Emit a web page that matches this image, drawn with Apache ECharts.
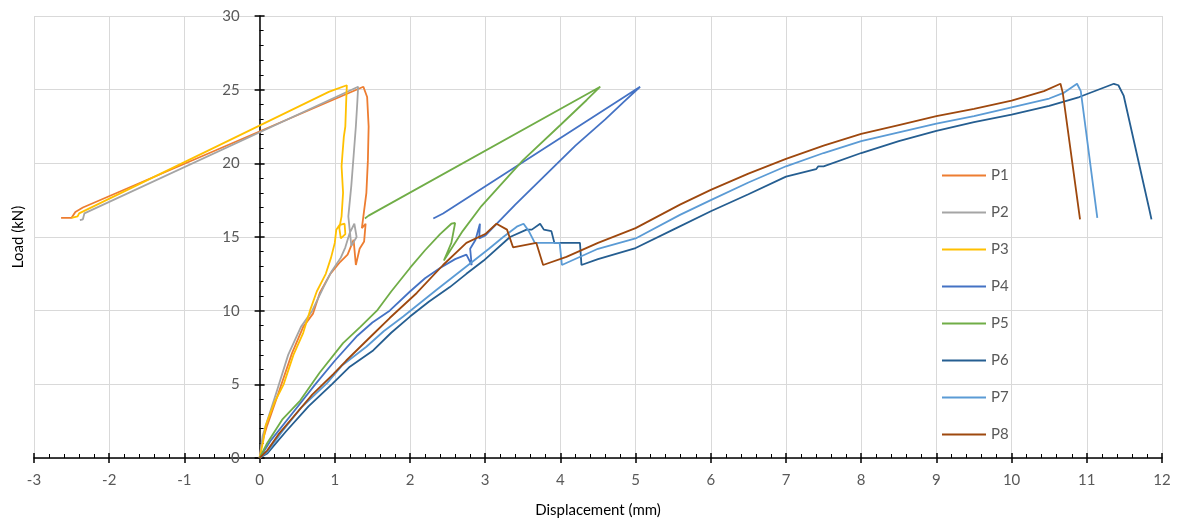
<!DOCTYPE html>
<html>
<head>
<meta charset="utf-8">
<script src="https://cdn.jsdelivr.net/npm/echarts@6/dist/echarts.min.js"></script>
<style>html,body{margin:0;padding:0;background:#fff}#c{width:1180px;height:526px}</style>
</head>
<body>
<div id="c"></div>
<script>
const seriesNames = ['P1','P2','P3','P4','P5','P6','P7','P8'];
const xTickLabels = ['-3','-2','-1','0','1','2','3','4','5','6','7','8','9','10','11','12'];
const yTickLabels = ['0','5','10','15','20','25','30'];

const P1 = [[0,0],[0.03,1.0],[0.1,2.2],[0.25,4.4],[0.43,7.1],[0.58,8.9],[0.71,9.8],[0.8,11.2],[0.94,12.5],[1.07,13.3],[1.17,13.8],[1.25,14.8],[1.28,13.1],[1.33,14.2],[1.39,14.7],[1.41,15.9],[1.36,15.6],[1.38,16.4],[1.42,18.0],[1.44,20.2],[1.45,22.5],[1.43,24.5],[1.38,25.2],[-2.35,17.0],[-2.45,16.7],[-2.5,16.3],[-2.64,16.3]];
const P2 = [[0,0],[0.04,1.5],[0.1,2.5],[0.22,4.4],[0.38,7.0],[0.55,8.9],[0.7,10.0],[0.85,11.6],[0.95,12.6],[1.08,13.6],[1.14,14.3],[1.2,15.3],[1.26,15.9],[1.29,15.0],[1.22,14.4],[1.18,16.4],[1.22,18.5],[1.25,20.5],[1.28,22.5],[1.30,24.2],[1.31,25.2],[-2.33,16.6],[-2.35,16.2],[-2.39,16.15]];
const P3 = [[0,0],[0.05,1.2],[0.08,2.2],[0.2,3.8],[0.32,5.0],[0.45,7.0],[0.58,8.5],[0.67,10.0],[0.76,11.3],[0.88,12.5],[0.95,13.6],[1.0,14.6],[1.02,15.5],[1.06,15.8],[1.13,15.9],[1.14,15.2],[1.08,14.9],[1.06,15.6],[1.09,16.4],[1.11,18.0],[1.09,19.8],[1.10,20.5],[1.12,21.8],[1.14,22.5],[1.15,24.0],[1.16,25.3],[1.0,25.0],[0.92,24.85],[-2.4,16.6],[-2.42,16.4],[-2.5,16.3]];
const P4 = [[0,0],[0.15,1.2],[0.4,2.8],[0.74,5.0],[1.0,6.6],[1.3,8.3],[1.5,9.2],[1.73,10.0],[2.0,11.3],[2.2,12.2],[2.4,12.9],[2.6,13.5],[2.75,13.8],[2.82,13.1],[2.8,14.2],[2.87,14.8],[2.93,15.9],[2.92,14.9],[3.0,15.1],[3.4,17.2],[3.8,19.2],[4.2,21.2],[4.6,23.0],[4.85,24.2],[5.06,25.2],[2.44,16.6],[2.31,16.26]];
const P5 = [[0,0],[0.1,1.0],[0.3,2.6],[0.54,3.9],[0.8,5.8],[1.11,7.8],[1.34,8.9],[1.56,10.0],[1.75,11.3],[2.0,12.9],[2.2,14.1],[2.4,15.2],[2.55,15.9],[2.6,15.95],[2.55,14.6],[2.5,14.0],[2.45,13.4],[2.7,15.4],[2.95,17.1],[3.5,20.2],[4.0,22.6],[4.35,24.3],[4.53,25.2],[1.45,16.45],[1.40,16.26]];
const P6 = [[0,0],[0.1,0.3],[0.35,1.8],[0.65,3.5],[0.96,5.0],[1.2,6.2],[1.51,7.3],[1.75,8.5],[2.0,9.6],[2.25,10.6],[2.53,11.6],[2.75,12.5],[2.98,13.4],[3.33,15.0],[3.55,15.5],[3.62,15.5],[3.73,15.9],[3.78,15.5],[3.88,15.4],[3.92,14.6],[4.26,14.6],[4.28,13.1],[4.5,13.5],[5.0,14.25],[5.5,15.5],[6,16.75],[6.5,17.9],[7,19.1],[7.4,19.6],[7.43,19.8],[7.5,19.8],[8,20.7],[8.5,21.5],[9,22.2],[9.5,22.8],[10,23.3],[10.5,23.9],[10.9,24.5],[11.36,25.4],[11.42,25.3],[11.49,24.6],[11.83,16.9],[11.86,16.2]];
const P7 = [[0,0],[0.1,0.4],[0.3,1.8],[0.55,3.4],[0.9,5.1],[1.1,6.3],[1.42,7.55],[1.65,8.6],[1.91,9.6],[2.35,11.4],[2.8,13.2],[3.05,14.2],[3.24,15.0],[3.42,15.7],[3.51,15.9],[3.58,15.4],[3.66,14.6],[3.99,14.6],[4.02,13.1],[4.5,14.2],[5.0,14.9],[5.59,16.5],[6,17.5],[6.5,18.7],[7,19.8],[7.5,20.7],[8,21.5],[8.5,22.1],[9,22.7],[9.5,23.2],[10,23.8],[10.5,24.4],[10.7,24.8],[10.87,25.4],[10.92,24.9],[11.14,16.3]];
const P8 = [[0,0],[0.1,0.5],[0.25,1.6],[0.45,2.8],[0.7,4.3],[0.98,5.7],[1.15,6.6],[1.34,7.55],[1.53,8.5],[1.73,9.5],[2.09,11.2],[2.44,13.1],[2.75,14.6],[3.0,15.2],[3.15,15.9],[3.29,15.5],[3.37,14.3],[3.68,14.6],[3.77,13.1],[4.08,13.65],[4.5,14.6],[5.0,15.6],[5.59,17.2],[6,18.2],[6.5,19.3],[7,20.3],[7.5,21.2],[8,22.0],[8.5,22.6],[9,23.2],[9.5,23.7],[10,24.25],[10.43,24.9],[10.65,25.4],[10.68,24.8],[10.91,16.2]];

const seriesData = [P1,P2,P3,P4,P5,P6,P7,P8];
const colors = ['#ED7D31','#A5A5A5','#FFC000','#4472C4','#70AD47','#255E91','#5B9BD5','#9E480E'];

const font = 'Lato, "Open Sans", sans-serif';
const labelColor = '#595959';
// y axis sits at x = 0: shift it inward from the grid's left edge (3 of 15 units of a 1128px wide grid)
const yAxisShift = -3 * 1128 / 15;

const chart = echarts.init(document.getElementById('c'), null, {renderer:'canvas'});
chart.setOption({
  animation: false,
  backgroundColor: '#fff',
  color: colors,
  grid: {left: 34, right: 18, top: 16, bottom: 68, outerBoundsMode: 'none'},
  legend: {
    orient: 'vertical', left: 942, top: 168,
    icon: 'rect', itemWidth: 44, itemHeight: 2, itemGap: 22, padding: 0,
    textStyle: {fontFamily: font, fontSize: 15, color: labelColor, lineHeight: 14},
    data: seriesNames
  },
  xAxis: [{
    type: 'value', min: -3, max: 12, interval: 1,
    name: 'Displacement (mm)', nameLocation: 'middle', nameGap: 45,
    nameTextStyle: {fontFamily: font, fontSize: 15, color: '#000'},
    axisLine: {show: true, onZero: false, lineStyle: {color: '#000', width: 1.5}},
    axisTick: {show: true, length: 5, lineStyle: {color: '#000', width: 1.5}},
    axisLabel: {margin: 15, fontFamily: font, fontSize: 15, color: labelColor,
      formatter: v => xTickLabels[Math.round(v) + 3]},
    splitLine: {show: true, lineStyle: {color: '#d9d9d9', width: 1}}
  },{
    type: 'value', min: -3, max: 12, interval: 1, position: 'bottom',
    axisLine: {show: false, onZero: false}, axisLabel: {show: false}, splitLine: {show: false},
    axisTick: {show: true, inside: true, length: 5, lineStyle: {color: '#000', width: 1.5}},
    minorTick: {show: true, splitNumber: 5, length: 4, lineStyle: {color: '#000', width: 1}}
  }],
  yAxis: [{
    type: 'value', min: 0, max: 30, interval: 5, position: 'left', offset: yAxisShift,
    name: 'Load (kN)', nameLocation: 'middle', nameGap: 234,
    nameTextStyle: {fontFamily: font, fontSize: 15, color: '#000'},
    axisLine: {show: true, onZero: false, lineStyle: {color: '#000', width: 1.5}},
    axisTick: {show: true, length: 5, lineStyle: {color: '#000', width: 1.5}},
    axisLabel: {margin: 20, fontFamily: font, fontSize: 15, color: labelColor,
      formatter: v => yTickLabels[Math.round(v / 5)]},
    splitLine: {show: true, lineStyle: {color: '#d9d9d9', width: 1}}
  },{
    type: 'value', min: 0, max: 30, interval: 5, position: 'left', offset: yAxisShift,
    axisLine: {show: false, onZero: false}, axisLabel: {show: false}, splitLine: {show: false},
    axisTick: {show: true, inside: true, length: 5, lineStyle: {color: '#000', width: 1.5}},
    minorTick: {show: true, splitNumber: 5, length: 4, lineStyle: {color: '#000', width: 1}}
  }],
  series: seriesNames.map((n, i) => ({
    name: n, type: 'line', data: seriesData[i], xAxisIndex: 0, yAxisIndex: 0,
    symbol: 'none', showSymbol: false, smooth: false,
    lineStyle: {width: 1.8, color: colors[i]}, itemStyle: {color: colors[i]}
  }))
});
</script>
</body>
</html>
